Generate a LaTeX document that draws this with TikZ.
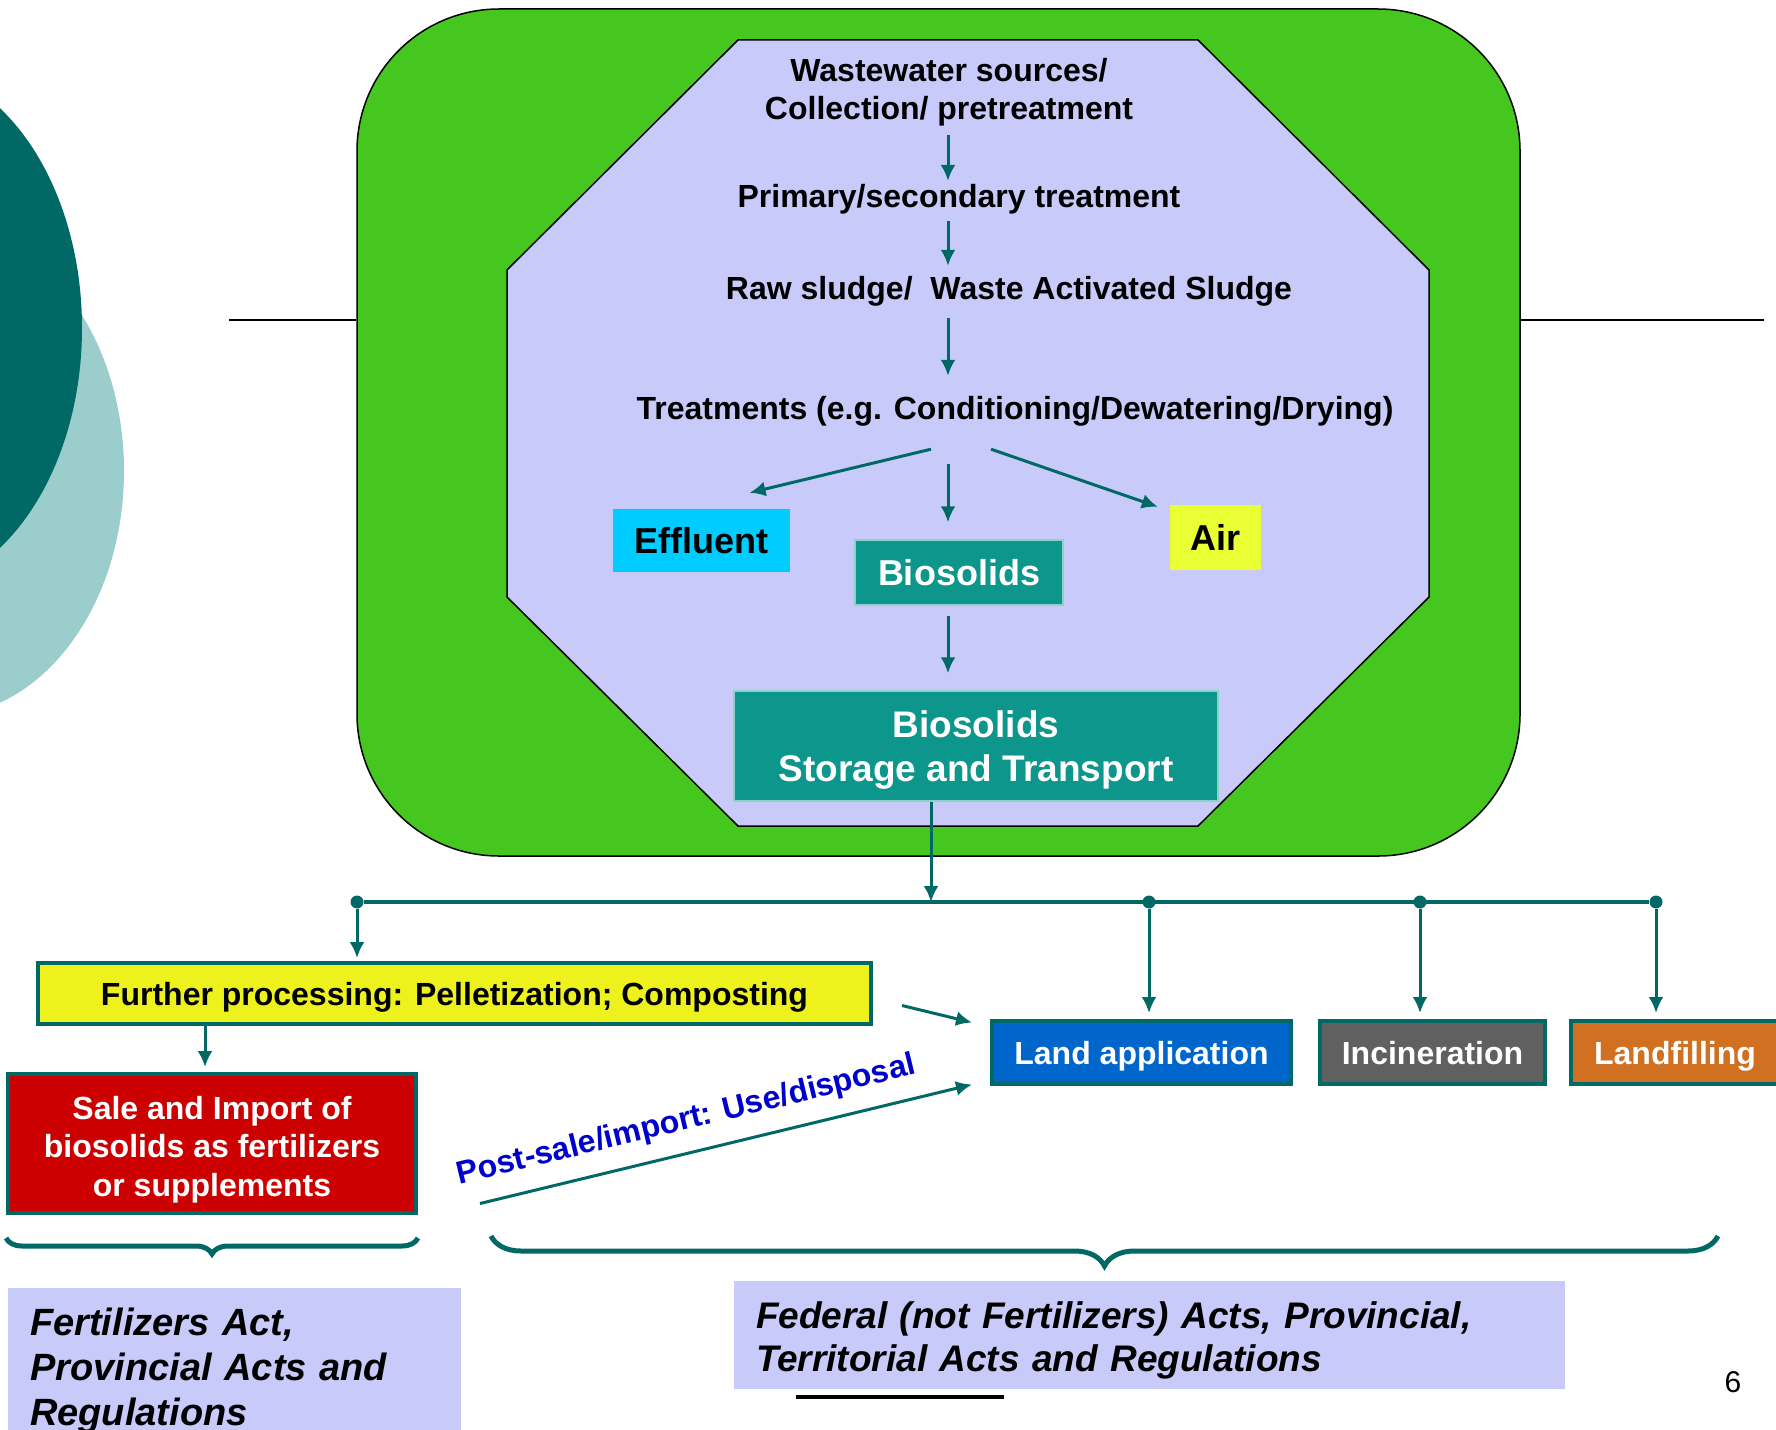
\documentclass[tikz,border=0pt]{standalone}
\usepackage{fontspec}
\setmainfont{Liberation Sans}
\usepackage{xcolor}
\usetikzlibrary{calc}
\usetikzlibrary{arrows.meta}
\usetikzlibrary{decorations.pathreplacing}
\tikzset{>={Latex[length=16pt,width=15pt]}}
\definecolor{plantgreen}{HTML}{46C71F}
\definecolor{lavender}{HTML}{C8CBFA}
\definecolor{darkteal}{HTML}{006966}
\definecolor{paleteal}{HTML}{9CCDCD}
\definecolor{biogreen}{HTML}{0C968C}
\definecolor{bioedge}{HTML}{8FD0C8}
\definecolor{effcyan}{HTML}{00CCFF}
\definecolor{airyellow}{HTML}{E9FF33}
\definecolor{procyellow}{HTML}{EEF21C}
\definecolor{salered}{HTML}{CC0000}
\definecolor{landblue}{HTML}{0066CC}
\definecolor{incgray}{HTML}{606060}
\definecolor{fillorange}{HTML}{D07020}
\definecolor{labelblue}{HTML}{0000CC}
\tikzset{
	flow/.style={->,draw=darkteal,line width=3pt},
	stage/.style={inner sep=0pt,align=center,font=\fontsize{32}{38}\selectfont\bfseries},
	product/.style={inner sep=0pt,align=center,font=\fontsize{36}{44}\selectfont\bfseries},
	route/.style={draw=darkteal,line width=4pt,inner sep=0pt,minimum height=63pt,text=white,font=\fontsize{32}{38.5}\selectfont\bfseries},
	oneline/.style={text height=23pt,text depth=0pt},
	law/.style={fill=lavender,inner xsep=22pt,inner ysep=0pt,align=left,font=\fontsize{38}{45}\selectfont\bfseries\itshape},
	junction/.style={circle,fill=darkteal,inner sep=0pt,minimum size=13pt},
	bracket/.style={decorate,decoration={brace,mirror,#1},draw=darkteal,line width=5pt}
}

\begin{document}
\begin{tikzpicture}[x=1pt,y=-1pt]
	\useasboundingbox (0,0) rectangle (1776,1429);
	\clip (0,0) rectangle (1776,1429);
	\fill[paleteal] (-60,471) ellipse [x radius=184pt,y radius=245pt];
	\fill[darkteal] (-100,328) ellipse [x radius=182pt,y radius=263pt];
	\coordinate (lstub) at (229,320);
	\coordinate (rstub) at (1764,320);
	\node[draw,fill=plantgreen,rounded corners=142pt,line width=1.5pt,minimum width=1163pt,minimum height=847pt] (plant) at (938.5,432.5) {};
	\draw[line width=2pt] (lstub)--(lstub -| plant.west) (plant.east |- rstub)--(rstub);
	\draw[fill=lavender,line width=1.5pt] (738,40)--(1198,40)--(1429,270)--(1429,597)--(1198,826)--(738,826)--(507,597)--(507,270)--cycle;
	\node[stage] (sources) at (949,92) {Wastewater sources/\\Collection/ pretreatment};
	\node[stage] (primary) at (959,199) {Primary/secondary treatment};
	\node[stage] (raw) at (1009,291) {Raw sludge/\ \ Waste Activated Sludge};
	\node[stage] (treat) at (1015,411) {Treatments (e.g. Conditioning/Dewatering/Drying)};
	\coordinate (spine) at (948,0);
	\draw[flow,shorten <=9pt,shorten >=3pt] (spine |- sources.south)--(spine |- primary.north);
	\draw[flow,shorten <=7pt,shorten >=10pt] (spine |- primary.south)--(spine |- raw.north);
	\draw[flow,shorten <=12pt,shorten >=20pt] (spine |- raw.south)--(spine |- treat.north);
	\node[product,fill=effcyan,minimum width=177pt,minimum height=63pt] (effluent) at (701.5,540.5) {Effluent};
	\node[product,fill=biogreen,draw=bioedge,line width=1.5pt,text=white,minimum width=208pt,minimum height=65pt] (bio) at (959,572.5) {Biosolids};
	\node[product,fill=airyellow,minimum width=91pt,minimum height=65pt] (air) at (1215.5,537.5) {Air};
	\node[product,fill=biogreen,draw=bioedge,line width=1.5pt,text=white,minimum width=484pt,minimum height=110pt,text depth=-3pt,font=\fontsize{37}{44}\selectfont\bfseries] (store) at (976,746) {Biosolids\\Storage and Transport};
	\draw[flow] ($(treat.south)+(-84,23)$)--($(effluent.north)+(48,-16)$);
	\draw[flow,shorten <=38pt,shorten >=17pt] (spine |- treat.south)--(spine |- bio.north);
	\draw[flow] ($(treat.south)+(-24,23)$)--($(air.north west)+(-12,2)$);
	\draw[flow,shorten <=10pt,shorten >=17pt] (spine |- bio.south)--(spine |- store.north);
	\node[junction] (j1) at (357,902) {};
	\node[junction] (j2) at (1149,902) {};
	\node[junction] (j3) at (1420,902) {};
	\node[junction] (j4) at (1656,902) {};
	\coordinate (drop) at (931,902);
	\draw[darkteal,line width=3.5pt] (j1)--(j4);
	\draw[flow] (drop |- store.south)--(drop);
	\node[route,oneline,fill=procyellow,text=black,minimum width=833pt,minimum height=61pt] (further) at (454.5,993.5) {Further processing: Pelletization; Composting};
	\node[route,fill=salered,minimum width=408pt,minimum height=139pt,align=center] (sale) at (212,1143.5) {\rule{0pt}{35pt}Sale and Import of\\biosolids as fertilizers\\or supplements};
	\node[route,oneline,fill=landblue,minimum width=299pt] (land) at (1141.5,1052.5) {Land application};
	\node[route,oneline,fill=incgray,minimum width=225pt] (incin) at (1432.5,1052.5) {Incineration};
	\node[route,oneline,fill=fillorange,minimum width=208pt] (landfill) at (1675,1052.5) {Landfilling};
	\coordinate (saletop) at ($(sale.north)+(-7,0)$);
	\draw[flow,shorten >=3pt] (j1)--(j1 |- further.north);
	\draw[flow,shorten >=6pt] (j2)--(j2 |- land.north);
	\draw[flow,shorten >=6pt] (j3)--(j3 |- incin.north);
	\draw[flow,shorten >=6pt] (j4)--(j4 |- landfill.north);
	\draw[flow,shorten >=5pt] (saletop |- further.south)--(saletop);
	\draw[flow] ($(further.east)+(29,12)$)--($(land.west)+(-18,-30)$);
	\draw[flow] ($(sale.east)+(62,60)$)--node[pos=0.435,above=12pt,sloped,text=labelblue,font=\fontsize{32}{38}\selectfont\bfseries] (postlabel) {Post-sale/import: Use/disposal} ($(land.west)+(-18,32)$);
	\draw[bracket={amplitude=16pt}] ($(sale.south west)+(0,23)$)--($(sale.south east)+(0,23)$);
	\draw[bracket={amplitude=30pt}] (491,1236)--(1718,1236);
	\node[law,anchor=north west,minimum width=453pt,minimum height=164pt,text width=409pt] (fertact) at (8,1288) {Fertilizers Act,\\Provincial Acts and\\Regulations};
	\node[law,minimum width=831pt,minimum height=108pt,text width=787pt,font=\fontsize{37}{43}\selectfont\bfseries\itshape] (fedact) at (1149.5,1335) {\rule{0pt}{37pt}Federal (not Fertilizers) Acts, Provincial,\\Territorial Acts and Regulations};
	\draw[line width=4pt] (796,1397)--(1004,1397);
	\node[font=\fontsize{30}{36}\selectfont] (pagenum) at (1733,1382) {6};
\end{tikzpicture}
\end{document}
